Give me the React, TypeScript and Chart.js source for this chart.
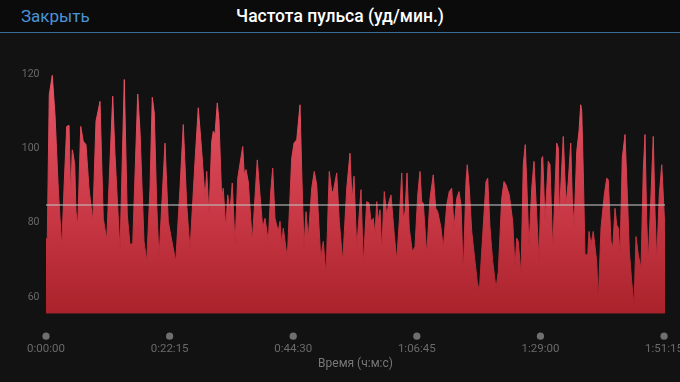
import React, { useEffect, useRef } from "react";
import { Chart, registerables } from "chart.js";

Chart.register(...registerables);

// time in minutes since start
const timeMin = [
  0, 0.23, 0.59, 1.13, 1.62, 2.21, 2.83, 3.24, 3.73, 4.14, 4.45, 4.73, 4.91, 5.17, 5.4, 5.71, 6.25, 6.71, 7.2, 7.74,
  8.41, 9.0, 9.72, 10.31, 10.93, 12.01, 12.42, 13.32, 14.09, 14.63, 15.12, 15.61, 16.51, 16.92, 17.64, 18.13,
  18.72, 19.13, 19.49, 19.93, 20.34, 21.42, 22.01, 22.5, 23.35, 24.12, 24.71, 25.33, 25.92, 26.82, 27.41, 28.03,
  28.62, 28.93, 29.34, 29.83, 30.11, 30.42, 30.83, 31.14, 31.63, 31.91, 32.35, 32.71, 33.12, 33.53, 34.02, 34.51,
  35.41, 35.69, 36.0, 36.41, 37.13,
  38.03, 38.52, 39.01, 39.42, 40.01, 40.45, 40.81, 41.22, 41.81, 42.12, 42.43, 42.71, 43.43, 44.23, 44.64, 45.13,
  45.72, 46.03, 46.44, 46.8, 47.21, 47.83, 48.29, 48.73, 49.45, 49.91, 50.4, 50.99, 51.43, 51.71, 52.33, 52.79,
  53.41, 54.13, 54.72, 55.08, 55.44, 55.93,
  56.7, 57.11, 57.73, 58.14, 58.5, 58.91, 59.22, 59.53, 59.81, 60.12, 60.43, 60.89, 61.33, 61.74, 62.1, 62.69,
  63.13, 63.59, 64.03, 64.31, 64.62, 64.98, 65.39, 65.93, 66.42, 66.91, 67.32, 67.63, 67.91, 68.53, 69.12, 69.71,
  70.15, 70.51, 71.1, 71.51, 72.13, 72.59, 73.03, 73.44, 73.93, 74.34, 74.7, 75.11,
  75.6, 75.83, 76.19, 76.63, 77.22, 77.63, 77.99, 78.61, 79.2, 79.51, 79.92, 80.41, 81.0, 81.41, 82.03, 82.44,
  82.8, 83.39, 84.01, 84.42, 84.73, 85.01, 85.5, 85.91, 86.27, 86.53, 86.94, 87.43, 87.84, 88.33, 88.74, 89.23,
  89.41, 89.82, 90.41, 90.72, 91.21, 91.93, 92.21, 92.39, 93.11, 93.6, 94.01,
  94.45, 94.73, 95.04, 95.53, 95.94, 96.25, 96.43, 96.71, 97.02, 97.51, 97.74, 98.1, 98.51, 99.13, 99.41, 99.9,
  100.49, 100.93, 101.21, 101.7, 102.01, 102.42, 102.73, 103.01, 103.32, 103.73, 104.22, 104.71, 105.0, 105.43,
  105.84, 106.2, 106.61, 107.1, 107.51, 107.82, 108.13, 108.41, 108.9, 109.31, 109.62, 109.93, 110.39, 110.83,
  111.11, 111.42,
];

const heartRate = [
  75.5, 76, 114.4, 119.6, 109, 89.3, 73.2, 89.3, 105.9, 106.2, 86.6, 99.6, 98.3, 95.6, 83, 79.4, 105.9, 101.9, 101, 89.3,
  80.4, 107.3, 112.6, 81.2, 75.4, 114, 98.3, 72.3, 118.5, 82.1, 74.1, 74.5, 114.6, 104.6, 75, 69.6,
  89.3, 113.7, 109.5, 84.8, 70.5, 101.4, 80.4, 76.3, 69.6, 89.3, 106.4, 84.8, 72.7, 96.5, 110.9, 99.2,
  86.6, 93.8, 82.1, 101.9, 104.6, 103.7, 112.2, 107.3, 86.6, 89.3, 78.6, 87.5, 83, 90.7, 74.1, 92,
  100.5, 92.9, 94.3, 91.1, 75,
  96.9, 87.5, 78.6, 81.2, 75, 88.4, 94.7, 81.2, 77.7, 80.4, 74.1, 78.6, 70.5, 97.4, 101.4, 102.3,
  111.7, 93.8, 73.2, 83, 75.9, 89.3, 93.8, 90.2, 70.5, 75, 66, 93.8, 88.4, 88.4, 93.4, 80.4,
  69.6, 89.3, 98.7, 85.7, 92.5, 73.2,
  88.9, 68.7, 85.7, 85.3, 80.4, 81.2, 76.8, 85.7, 80.4, 83.5, 72.3, 88.4, 82.1, 85.7, 87.5, 76.8,
  70, 80.4, 93.4, 81.2, 83, 93.4, 78.5, 72.3, 73.6, 87.5, 93.8, 85.7, 85.3, 71.4, 86.6, 92.9,
  83.9, 83, 78.6, 73.2, 84.8, 88.4, 89.3, 78.6, 86.6, 88.4, 84.8, 66,
  91.1, 95.6, 89.3, 77.7, 69.6, 64.2, 61.5, 76.8, 91.1, 92, 78.6, 69.6, 62.4, 66.9, 86.6, 91.1,
  90.2, 87.5, 80.4, 67.8, 75.9, 75, 66, 95.6, 101, 91.1, 73.2, 89.3, 96.5, 82.1, 69.6, 97.4,
  97.8, 80.4, 96.5, 95.6, 72.3, 101.4, 100.1, 81.2, 103.2, 84.8, 91.1,
  101.4, 86.6, 78.6, 99.2, 104.6, 111.7, 110, 93.8, 71.4, 71.4, 77.7, 74.1, 77.7, 69.6, 59.3, 78.6,
  87.5, 92, 91.6, 75, 73.2, 83.9, 79.5, 78.6, 71.4, 97.4, 103.7, 84.8, 72.3, 64.2,
  57.9, 76.3, 71.4, 67.8, 93.8, 103.7, 80.4, 69.6, 87.5, 103.2, 83, 69.6, 87.5, 95.6,
  87.5, 77.7,
];

const averageHR = 84.8;
const yTicks = [60, 80, 100, 120];
const xTicks = [0, 22.25, 44.5, 66.75, 89, 111.25];
const xMin = 0;
const xMax = 111.42;
const yMin = 55.6;
const yMax = 124;

const FONT = "Roboto, 'Noto Sans', sans-serif";

function fmtTime(v: number): string {
  const total = Math.round(v * 60);
  const h = Math.floor(total / 3600);
  const m = Math.floor((total % 3600) / 60);
  const s = total % 60;
  return `${h}:${String(m).padStart(2, "0")}:${String(s).padStart(2, "0")}`;
}

const dotsPlugin = {
  id: "tickDots",
  afterDraw(chart: any) {
    const xs = chart.scales.x;
    const ctx = chart.ctx;
    ctx.save();
    ctx.fillStyle = "#6f6f6f";
    xs.ticks.forEach((t: any) => {
      const px = xs.getPixelForValue(t.value);
      ctx.beginPath();
      ctx.arc(px, xs.top + 22.5, 3.6, 0, Math.PI * 2);
      ctx.fill();
    });
    ctx.restore();
  },
};

export default function App() {
  const ref = useRef<HTMLCanvasElement>(null);

  useEffect(() => {
    if (!ref.current) return;
    const points = timeMin.map((t, i) => ({ x: t, y: heartRate[i] }));
    const gradFn = (context: any) => {
      const chart = context.chart;
      const { ctx, chartArea } = chart;
      if (!chartArea) return "#c83444";
      const g = ctx.createLinearGradient(0, chartArea.top, 0, chartArea.bottom);
      g.addColorStop(0, "#ea5a6b");
      g.addColorStop(0.55, "#cd3b49");
      g.addColorStop(1, "#aa222b");
      return g;
    };
    const chart = new Chart(ref.current, {
      type: "line",
      data: {
        datasets: [
          {
            data: [
              { x: xMin, y: averageHR },
              { x: xMax, y: averageHR },
            ],
            borderColor: "rgba(190,190,190,0.75)",
            borderWidth: 1.5,
            pointRadius: 0,
            fill: false,
            order: 0,
          },
          {
            data: points,
            borderColor: gradFn,
            backgroundColor: gradFn,
            borderWidth: 1,
            pointRadius: 0,
            tension: 0,
            fill: "start",
            order: 1,
          },
        ],
      },
      options: {
        responsive: false,
        animation: false,
        devicePixelRatio: 1,
        layout: { padding: { top: 25, right: 15, left: 0, bottom: 0 } },
        plugins: { legend: { display: false }, tooltip: { enabled: false } },
        scales: {
          x: {
            type: "linear",
            min: xMin,
            max: xMax,
            grid: { display: false, drawTicks: false },
            border: { display: false },
            afterBuildTicks: (scale: any) => {
              scale.ticks = xTicks.map((v) => ({ value: v }));
            },
            afterFit: (scale: any) => {
              scale.height = 68.3;
              scale.paddingLeft = 0;
              scale.paddingRight = 0;
            },
            ticks: {
              autoSkip: false,
              maxRotation: 0,
              padding: 29,
              color: "#6a6a6a",
              font: { family: FONT, size: 11.5 },
              callback: (v: any) => fmtTime(Number(v)),
            },
            title: {
              display: true,
              text: "Время (ч:м:с)",
              color: "#777777",
              font: { family: FONT, size: 12 },
              padding: { top: 0, bottom: 11 },
            },
          },
          y: {
            min: yMin,
            max: yMax,
            grid: { display: false, drawTicks: false },
            border: { display: false },
            afterBuildTicks: (scale: any) => {
              scale.ticks = yTicks.map((v) => ({ value: v }));
            },
            afterFit: (scale: any) => {
              scale.width = 46;
            },
            ticks: {
              padding: 6.5,
              color: "#6a6a6a",
              font: { family: FONT, size: 10.5 },
            },
          },
        },
      },
      plugins: [dotsPlugin],
    });
    return () => chart.destroy();
  }, []);

  return (
    <div
      style={{
        position: "fixed",
        left: 0,
        top: 0,
        width: 680,
        height: 382,
        background: "#121212",
        overflow: "hidden",
        fontFamily: FONT,
      }}
    >
      <div
        style={{
          position: "absolute",
          left: 0,
          top: 0,
          width: 680,
          height: 32,
          background: "#0b0b0b",
          borderBottom: "1.5px solid #3a6c97",
        }}
      >
        <div
          style={{
            position: "absolute",
            left: 21,
            top: 0,
            height: 32,
            lineHeight: "32px",
            fontSize: 17,
            color: "#4b93d6",
          }}
        >
          Закрыть
        </div>
        <div
          style={{
            position: "absolute",
            left: 0,
            width: 680,
            top: 0,
            height: 32,
            lineHeight: "32px",
            textAlign: "center",
            fontSize: 17.5,
            fontWeight: 500,
            color: "#ffffff",
          }}
        >
          Частота пульса (уд/мин.)
        </div>
      </div>
      <canvas
        ref={ref}
        width={680}
        height={348}
        style={{ position: "absolute", left: 0, top: 34, width: 680, height: 348 }}
      />
    </div>
  );
}
